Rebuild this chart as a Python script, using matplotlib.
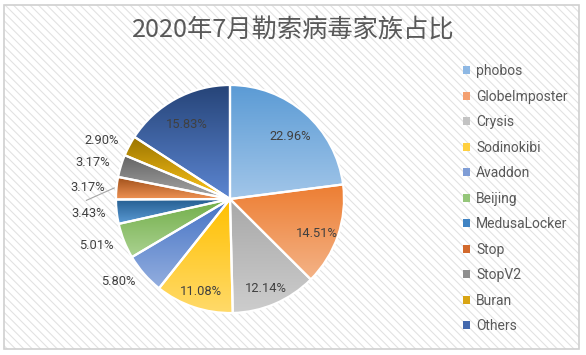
import numpy as np
import matplotlib
matplotlib.use('Agg')
import matplotlib.pyplot as plt
from matplotlib.patches import Rectangle, Patch
from matplotlib.colors import LinearSegmentedColormap

plt.rcParams['font.family'] = ['Roboto', 'Noto Sans CJK SC', 'DejaVu Sans']
plt.rcParams['hatch.linewidth'] = 0.8

# data
families = ['phobos', 'GlobeImposter', 'Crysis', 'Sodinokibi', 'Avaddon', 'Beijing',
            'MedusaLocker', 'Stop', 'StopV2', 'Buran', 'Others']
shares = [22.96, 14.51, 12.14, 11.08, 5.80, 5.01, 3.43, 3.17, 3.17, 2.90, 15.83]
title = '2020年7月勒索病毒家族占比'

# gradient fills (top -> bottom of each slice) and legend swatches
tops = ['#5B9BD5', '#ED7D31', '#A8A8A8', '#FFC000', '#4472C4', '#70AD47',
        '#255E91', '#A0501A', '#636363', '#997300', '#264478']
bottoms = ['#A2C6E9', '#F4B387', '#CDCDCD', '#FFDA6A', '#93AEDF', '#ABD291',
           '#5B9BD5', '#F29556', '#A8A8A8', '#FFC61A', '#5C86D2']
swatch = ['#8EB8E4', '#F4A070', '#C3C3C3', '#FFD040', '#7F9DD6', '#95C67A',
          '#3F83C3', '#D2692C', '#8E8E8E', '#D9A514', '#4469AE']

W, H = 586, 355
fig = plt.figure(figsize=(W / 100, H / 100), dpi=100)

# hatched chart area + border (kept behind the axes)
bg = Rectangle((4 / W, 6 / H), 575 / W, 344 / H, transform=fig.transFigure,
               facecolor='white', edgecolor='#e2e2e2', hatch='\\\\\\\\', lw=0, zorder=-10)
fig.patches.append(bg)
frame = Rectangle((4 / W, 6 / H), 575 / W, 344 / H, transform=fig.transFigure,
                  fill=False, edgecolor='#d0d0d0', lw=1.2, zorder=-9)
fig.patches.append(frame)

# pie: centre ~ (230, 199) px, radius ~114 px
lim = 1.35
half = lim * 114
ax = fig.add_axes([(230 - half) / W, (H - 199 - half) / H, 2 * half / W, 2 * half / H])
ax.set_zorder(1)

wedges, _ = ax.pie(shares, startangle=90, counterclock=False, radius=1,
                   wedgeprops=dict(edgecolor='white', linewidth=1.6, facecolor='none'))

grad = np.linspace(0, 1, 256).reshape(-1, 1)
for w, c0, c1 in zip(wedges, tops, bottoms):
    ext = w.get_path().get_extents()
    cmap = LinearSegmentedColormap.from_list('', [c0, c1])
    im = ax.imshow(grad, cmap=cmap, extent=[ext.x0, ext.x1, ext.y0, ext.y1],
                   origin='upper', aspect='auto', interpolation='bilinear', zorder=0.9)
    im.set_clip_path(w)

# data labels
for w, pct, name in zip(wedges, shares, families):
    t = np.deg2rad((w.theta1 + w.theta2) / 2)
    if pct >= 6:
        ax.annotate(f'{pct:.2f}%', (0.8 * np.cos(t), 0.8 * np.sin(t)), xytext=(0, -4),
                    textcoords='offset points', ha='center', va='center',
                    fontsize=9.3, color='#404040', zorder=3)
    else:
        ax.text(1.1 * np.cos(t), 1.1 * np.sin(t), f'{pct:.2f}%',
                ha='right' if np.cos(t) < 0 else 'left', va='center',
                fontsize=9.3, color='#404040', zorder=3)
        if name == 'Stop':
            t2 = t + np.deg2rad(6)
            ax.plot([1.02 * np.cos(t), 1.26 * np.cos(t2)], [1.02 * np.sin(t), 1.26 * np.sin(t2)],
                    color='#a6a6a6', lw=0.8, zorder=2)

ax.set_xlim(-lim, lim)
ax.set_ylim(-lim, lim)
ax.axis('off')

fig.text(0.5, 1 - 31 / H, title, ha='center', va='center', fontsize=18.2,
         color='#595959', family=['Noto Sans CJK SC', 'DejaVu Sans'])

handles = [Patch(facecolor=c, edgecolor='none') for c in swatch]
fig.legend(handles, families, loc='upper left', bbox_to_anchor=(463 / W, 1 - 64 / H),
           frameon=False, fontsize=10, handlelength=0.5, handleheight=0.5,
           handletextpad=0.45, labelspacing=0.83, borderpad=0, borderaxespad=0,
           labelcolor='#595959')

fig.savefig('out.png', dpi=100)
